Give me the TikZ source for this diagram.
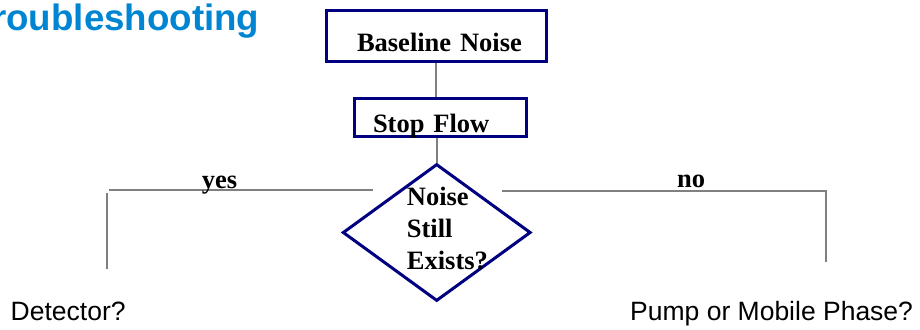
\documentclass[tikz,border=0pt]{standalone}
\usepackage{fontspec}
\setmainfont{Liberation Serif}
\newfontfamily\arialfont{Liberation Sans}
\usetikzlibrary{shapes.geometric}
\definecolor{navyline}{RGB}{0,0,128}
\definecolor{linkgray}{RGB}{128,128,128}
\definecolor{titleblue}{RGB}{0,133,210}
\tikzset{
  stepbox/.style={draw=navyline, line width=3pt, inner xsep=0pt, inner ysep=0pt,
    align=left, font=\bfseries\fontsize{26.5}{32}\selectfont},
  decision/.style={draw=navyline, line width=3pt, diamond, inner sep=0pt},
  link/.style={draw=linkgray, line width=2pt},
  branchlabel/.style={inner sep=0pt, font=\bfseries\fontsize{26.5}{32}\selectfont},
  outcome/.style={inner sep=0pt, font=\arialfont\fontsize{26.5}{32}\selectfont},
}
\begin{document}
\begin{tikzpicture}[x=1pt,y=-1pt]
  \useasboundingbox (0,0) rectangle (920,329);
  \clip (0,0) rectangle (920,329);

  % heading
  \node[inner sep=0pt, anchor=base east, text=titleblue,
        font=\arialfont\bfseries\fontsize{36.7}{40}\selectfont]
        (title) at (259.5,31) {Troubleshooting};

  % process boxes
  \node[stepbox, text width=220pt, text height=41.2pt, text depth=9.5pt]
        (noise) at (436.5,36.15) {\hspace*{30.5pt}Baseline Noise};
  \node[stepbox, text width=172pt, text height=33.5pt, text depth=4.5pt]
        (stop) at (440.5,117.5) {\hspace*{18.5pt}Stop Flow};

  % decision
  \node[decision, minimum width=188pt, minimum height=137pt]
        (check) at (436.7,232.5) {};
  \node[inner sep=0pt, anchor=north west, align=left,
        font=\bfseries\fontsize{26.5}{32}\selectfont]
        (checktext) at (406.7,187) {Noise\\Still\\Exists?};

  % branch end points
  \coordinate (yesR) at (373,190);
  \coordinate (yesL) at (109,190);
  \coordinate (detTop) at (106.7,193);
  \coordinate (detBot) at (106.7,269);
  \coordinate (noL) at (502,190.7);
  \coordinate (noC) at (825.7,190.7);
  \coordinate (noBot) at (825.7,261.7);

  % connectors
  \draw[link] (noise.south -| 436,0) -- (stop.north -| 436,0);
  \draw[link] (stop.south -| check.north) -- (check.north);
  \draw[link] (yesR) -- (yesL);
  \draw[link] (detTop) -- (detBot);
  \draw[link] (noL) -- (noC) -- (noBot);

  % branch labels
  \node[branchlabel, anchor=base] (yes) at (219.5,188.3) {yes};
  \node[branchlabel, anchor=base] (no) at (691,187) {no};

  % outcomes
  \node[outcome, anchor=base west] (detector) at (10.5,320.7) {Detector?};
  \node[outcome, anchor=base west] (pump) at (630,320) {Pump or Mobile Phase?};
\end{tikzpicture}
\end{document}
